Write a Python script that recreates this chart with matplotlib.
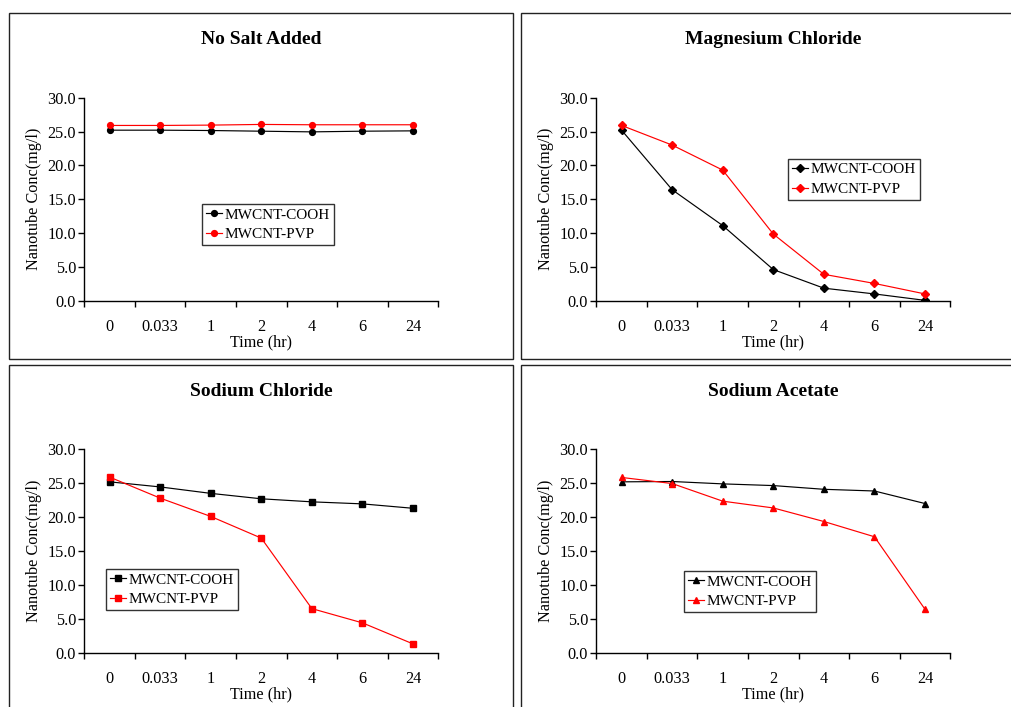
import matplotlib
matplotlib.use("Agg")
import matplotlib.pyplot as plt
from matplotlib.patches import Rectangle
import numpy as np

plt.rcParams['font.family'] = ['Liberation Serif', 'DejaVu Serif']

time_labels = ["0", "0.033", "1", "2", "4", "6", "24"]
series_names = ["MWCNT-COOH", "MWCNT-PVP"]

titles = ["No Salt Added", "Magnesium Chloride", "Sodium Chloride", "Sodium Acetate"]

nosalt_cooh = [25.2, 25.2, 25.15, 25.05, 24.95, 25.05, 25.1]
nosalt_pvp = [25.9, 25.9, 25.95, 26.05, 26.0, 26.0, 26.0]

mgcl_cooh = [25.2, 16.4, 11.1, 4.6, 1.85, 1.0, 0.05]
mgcl_pvp = [25.9, 23.0, 19.3, 9.85, 3.9, 2.55, 1.0]

nacl_cooh = [25.2, 24.45, 23.5, 22.7, 22.25, 21.95, 21.3]
nacl_pvp = [25.9, 22.8, 20.1, 16.9, 6.5, 4.4, 1.3]

naac_cooh = [25.2, 25.25, 24.9, 24.65, 24.1, 23.85, 22.0]
naac_pvp = [25.85, 24.95, 22.35, 21.35, 19.35, 17.1, 6.4]

W, H = 1012, 707
fig = plt.figure(figsize=(W / 100, H / 100), dpi=100)

def px_rect(x0, y0, x1, y1):
    return [x0 / W, 1 - y1 / H, (x1 - x0) / W, (y1 - y0) / H]

# panel frames
frames = [(9, 12.5, 513, 359), (521, 12.5, 1016, 359), (9, 365, 513, 712), (521, 365, 1016, 712)]
for (x0, y0, x1, y1) in frames:
    fig.patches.append(Rectangle((x0 / W, 1 - y1 / H), (x1 - x0) / W, (y1 - y0) / H,
                                 transform=fig.transFigure, fill=False,
                                 edgecolor="#222222", linewidth=1.0))

axes_px = [(84.3, 97.7, 438.3, 300.7), (596.3, 97.7, 950.3, 300.7),
           (84.3, 449.3, 438.3, 652.7), (596.3, 449.3, 950.3, 652.7)]
title_y = [39.5, 39.5, 391.7, 391.7]
data = [(nosalt_cooh, nosalt_pvp), (mgcl_cooh, mgcl_pvp),
        (nacl_cooh, nacl_pvp), (naac_cooh, naac_pvp)]
markers = ["o", "D", "s", "^"]
msizes = [4.2, 3.6, 4.6, 4.8]
legend_px = [(202, 204), (788, 158.7), (106, 569), (684, 571)]

x = np.arange(len(time_labels))
for i in range(4):
    ax = fig.add_axes(px_rect(*axes_px[i]))
    c, p = data[i]
    ax.plot(x, c, color="black", marker=markers[i], markersize=msizes[i], linewidth=0.85,
            label=series_names[0])
    ax.plot(x, p, color="#ff0000", marker=markers[i], markersize=msizes[i], linewidth=0.85,
            label=series_names[1])
    ax.set_xlim(-0.5, len(time_labels) - 0.5)
    ax.set_ylim(0, 30)
    ax.set_yticks(np.arange(0, 30.1, 5))
    ax.set_yticklabels([f"{v:.1f}" for v in np.arange(0, 30.1, 5)])
    ax.set_xticks(np.arange(-0.5, len(time_labels)), minor=False)
    ax.set_xticklabels([])
    ax.set_xticks(x, minor=True)
    ax.set_xticklabels(time_labels, minor=True)
    ax.tick_params(axis="x", which="major", direction="out", length=4, width=1)
    ax.tick_params(axis="x", which="minor", length=0, pad=13, labelsize=11.7)
    ax.tick_params(axis="y", direction="out", length=4, width=1, labelsize=11.7, pad=2)
    for s in ["top", "right"]:
        ax.spines[s].set_visible(False)
    for s in ["left", "bottom"]:
        ax.spines[s].set_linewidth(1.0)
    ax.set_xlabel("Time (hr)", fontsize=11.7, labelpad=0)
    ax.set_ylabel("Nanotube Conc(mg/l)", fontsize=11.7, labelpad=4)
    cx = (axes_px[i][0] + axes_px[i][2]) / 2
    fig.text(cx / W, 1 - title_y[i] / H, titles[i], ha="center", va="center",
             fontsize=14, fontweight="bold")
    lx, ly = legend_px[i]
    leg = ax.legend(loc="upper left", bbox_to_anchor=(lx / W, 1 - ly / H),
                    bbox_transform=fig.transFigure, borderaxespad=0,
                    fontsize=11, frameon=True, fancybox=False, shadow=False,
                    handlelength=1.05, handletextpad=0.2, borderpad=0.25,
                    labelspacing=0.4, numpoints=1)
    leg.get_frame().set_edgecolor("black")
    leg.get_frame().set_linewidth(1.0)

fig.savefig("out.png", dpi=100)
